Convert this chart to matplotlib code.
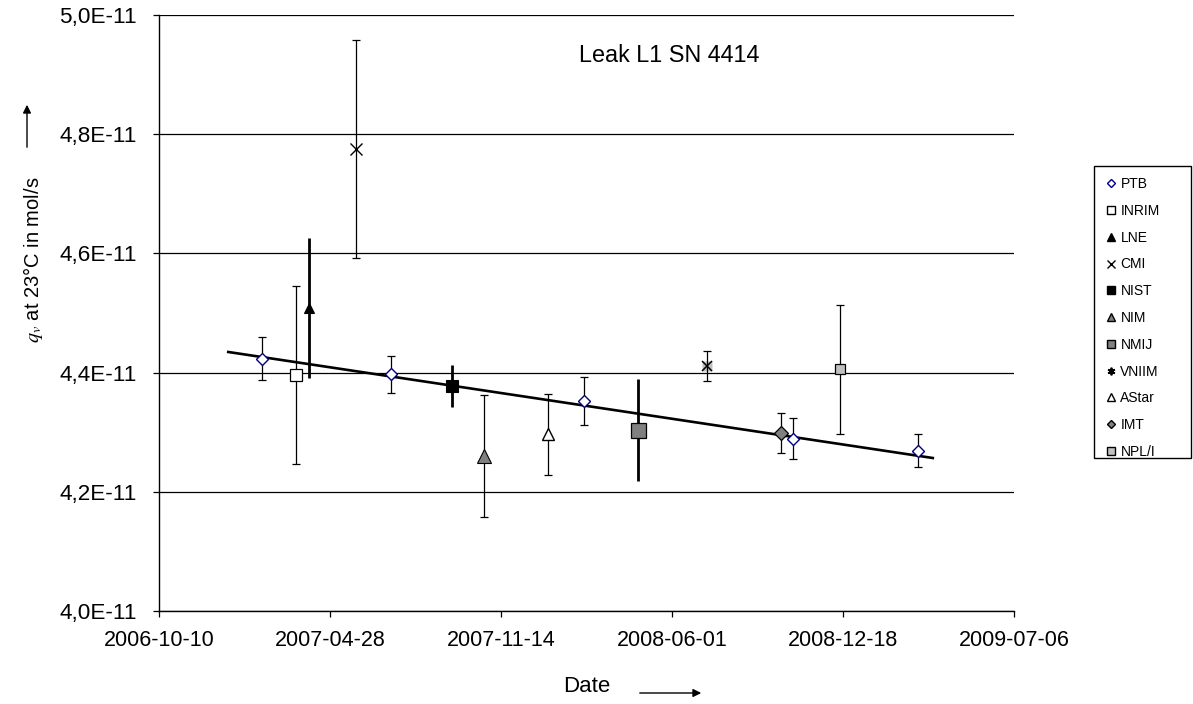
import matplotlib
matplotlib.use('Agg')
import matplotlib.pyplot as plt
import matplotlib.dates as mdates
from matplotlib.lines import Line2D
from matplotlib.patches import Rectangle, FancyArrowPatch
from matplotlib.ticker import FuncFormatter, FixedLocator

plt.rcParams['font.family'] = ['Liberation Sans', 'DejaVu Sans']
plt.rcParams['mathtext.fontset'] = 'stix'

# ---------------- data ----------------
ptb_dates = ['2007-02-08', '2007-07-08', '2008-02-19', '2008-10-21', '2009-03-16']
ptb_values = [4.423e-11, 4.397e-11, 4.352e-11, 4.289e-11, 4.269e-11]
ptb_errors = [0.036e-11, 0.031e-11, 0.040e-11, 0.034e-11, 0.028e-11]

other_labs = ['INRIM', 'LNE', 'CMI', 'NIST', 'NIM', 'NMIJ', 'VNIIM', 'AStar', 'IMT', 'NPL/I']
other_dates = ['2007-03-19', '2007-04-03', '2007-05-28', '2007-09-18', '2007-10-25',
               '2008-04-22', '2008-07-12', '2008-01-08', '2008-10-07', '2008-12-14']
other_values = [4.396e-11, 4.508e-11, 4.775e-11, 4.3775e-11, 4.260e-11,
                4.304e-11, 4.4106e-11, 4.2965e-11, 4.2987e-11, 4.4055e-11]
other_errors = [0.150e-11, 0.117e-11, 0.183e-11, 0.035e-11, 0.102e-11,
                0.086e-11, 0.025e-11, 0.068e-11, 0.033e-11, 0.108e-11]

trend_dates = ['2006-12-30', '2009-04-02']
trend_values = [4.4346e-11, 4.2567e-11]

legend_order = ['PTB', 'INRIM', 'LNE', 'CMI', 'NIST', 'NIM', 'NMIJ', 'VNIIM', 'AStar', 'IMT', 'NPL/I']
x_ticks = ['2006-10-10', '2007-04-28', '2007-11-14', '2008-06-01', '2008-12-18', '2009-07-06']
y_ticks = [4.0e-11, 4.2e-11, 4.4e-11, 4.6e-11, 4.8e-11, 5.0e-11]
title_text = 'Leak L1 SN 4414'

# ---------------- styles ----------------
styles = {
    'PTB':   dict(marker='D', ms=6.5, mfc='white', mec='#000080', mew=1.0),
    'INRIM': dict(marker='s', ms=8.5, mfc='white', mec='black', mew=0.9),
    'LNE':   dict(marker='^', ms=7.5, mfc='black', mec='black', mew=0.8),
    'CMI':   dict(marker='x', ms=8.5, mfc='black', mec='black', mew=1.0),
    'NIST':  dict(marker='s', ms=8.8, mfc='black', mec='black', mew=0.8),
    'NIM':   dict(marker='^', ms=10, mfc='#808080', mec='black', mew=0.8),
    'NMIJ':  dict(marker='s', ms=10.8, mfc='#808080', mec='black', mew=0.9),
    'VNIIM': dict(marker='x', ms=7.5, mfc='black', mec='black', mew=1.1),
    'AStar': dict(marker='^', ms=9, mfc='white', mec='black', mew=1.0),
    'IMT':   dict(marker='D', ms=7, mfc='#808080', mec='black', mew=0.9),
    'NPL/I': dict(marker='s', ms=7, mfc='#c0c0c0', mec='black', mew=0.9),
}
thick = {'LNE', 'NIST', 'NMIJ'}

W, H = 1193, 704
fig = plt.figure(figsize=(W / 100, H / 100), dpi=100)
ax = fig.add_axes([159 / W, 1 - 611 / H, (1014 - 159) / W, (611 - 15) / H])


def d(s):
    return mdates.datestr2num(s)


# gridlines
ax.set_ylim(4.0e-11, 5.0e-11)
ax.yaxis.set_major_locator(FixedLocator(y_ticks))
ax.grid(axis='y', color='black', linewidth=0.9, zorder=0)
ax.set_axisbelow(True)

# trend line
ax.plot([d(s) for s in trend_dates], trend_values, color='black', lw=1.9, zorder=3)

# PTB
ax.errorbar([d(s) for s in ptb_dates], ptb_values, yerr=ptb_errors, fmt='none',
            ecolor='black', elinewidth=0.9, capsize=3.2, capthick=0.9, zorder=4)
ax.plot([d(s) for s in ptb_dates], ptb_values, ls='none', zorder=5, **styles['PTB'])

# other labs
for lab, ds, v, e in zip(other_labs, other_dates, other_values, other_errors):
    x = d(ds)
    if lab in thick:
        ax.errorbar([x], [v], yerr=[e], fmt='none', ecolor='black', elinewidth=2.0,
                    capsize=0, zorder=4)
    else:
        ax.errorbar([x], [v], yerr=[e], fmt='none', ecolor='black', elinewidth=0.9,
                    capsize=3.2, capthick=0.9, zorder=4)
    if lab == 'VNIIM':
        ax.plot([x], [v], ls='none', marker='s', ms=7.5, mfc='#c0c0c0', mec='none', zorder=3.5)
    ax.plot([x], [v], ls='none', zorder=6, **styles[lab])

# x axis
ax.set_xlim(d(x_ticks[0]), d(x_ticks[-1]))
ax.xaxis.set_major_locator(FixedLocator([d(s) for s in x_ticks]))
ax.xaxis.set_major_formatter(mdates.DateFormatter('%Y-%m-%d'))
ax.yaxis.set_major_formatter(FuncFormatter(lambda v, p: ('%.1f' % (v / 1e-11)).replace('.', ',') + 'E-11'))

for sp in ['top', 'right']:
    ax.spines[sp].set_visible(False)
for sp in ['left', 'bottom']:
    ax.spines[sp].set_color('black')
    ax.spines[sp].set_linewidth(1.0)
ax.tick_params(axis='both', direction='out', length=4.5, width=0.9, colors='black')
ax.tick_params(axis='x', labelsize=15.5, pad=9)
ax.tick_params(axis='y', labelsize=16.2, pad=11.5)

# title inside plot
fig.text(579 / W, 1 - 55 / H, title_text, ha='left', va='center', fontsize=16.8)

# y label with arrow
fig.text(33 / W, 1 - 260 / H, r'$q_v$ at 23°C in mol/s', rotation=90,
         ha='center', va='center', fontsize=14.5)
fig.add_artist(FancyArrowPatch(
    (27, H - 150), (27, H - 102), transform=None, arrowstyle='-|>',
    mutation_scale=12, color='black', lw=1.0))

# x label with arrow
fig.text(587 / W, 1 - 687 / H, 'Date', ha='center', va='center', fontsize=16)
fig.add_artist(FancyArrowPatch(
    (637, H - 693), (704, H - 693), transform=None, arrowstyle='-|>',
    mutation_scale=12, color='black', lw=1.0))

# legend
handles = []
for lab in legend_order:
    st = dict(styles[lab])
    st['ms'] = 5.5 if st['marker'] != 'D' else 4.3
    st['mew'] = 1.0
    if lab == 'VNIIM':
        st['marker'] = (6, 2, 0)
        st['mew'] = 1.3
    handles.append(Line2D([], [], ls='none', **st))
leg = fig.legend(handles, legend_order, loc='upper left',
                 bbox_to_anchor=(1094 / W, 1 - 166 / H), bbox_transform=fig.transFigure,
                 borderaxespad=0, fontsize=10, frameon=False,
                 handlelength=0.8, handletextpad=0.3,
                 labelspacing=0.92, borderpad=0.8)
fig.add_artist(Rectangle((1094, H - 458), 1191 - 1094, 458 - 166, transform=None,
                         fill=False, edgecolor='black', lw=1.0))

fig.savefig('out.png', dpi=100)
